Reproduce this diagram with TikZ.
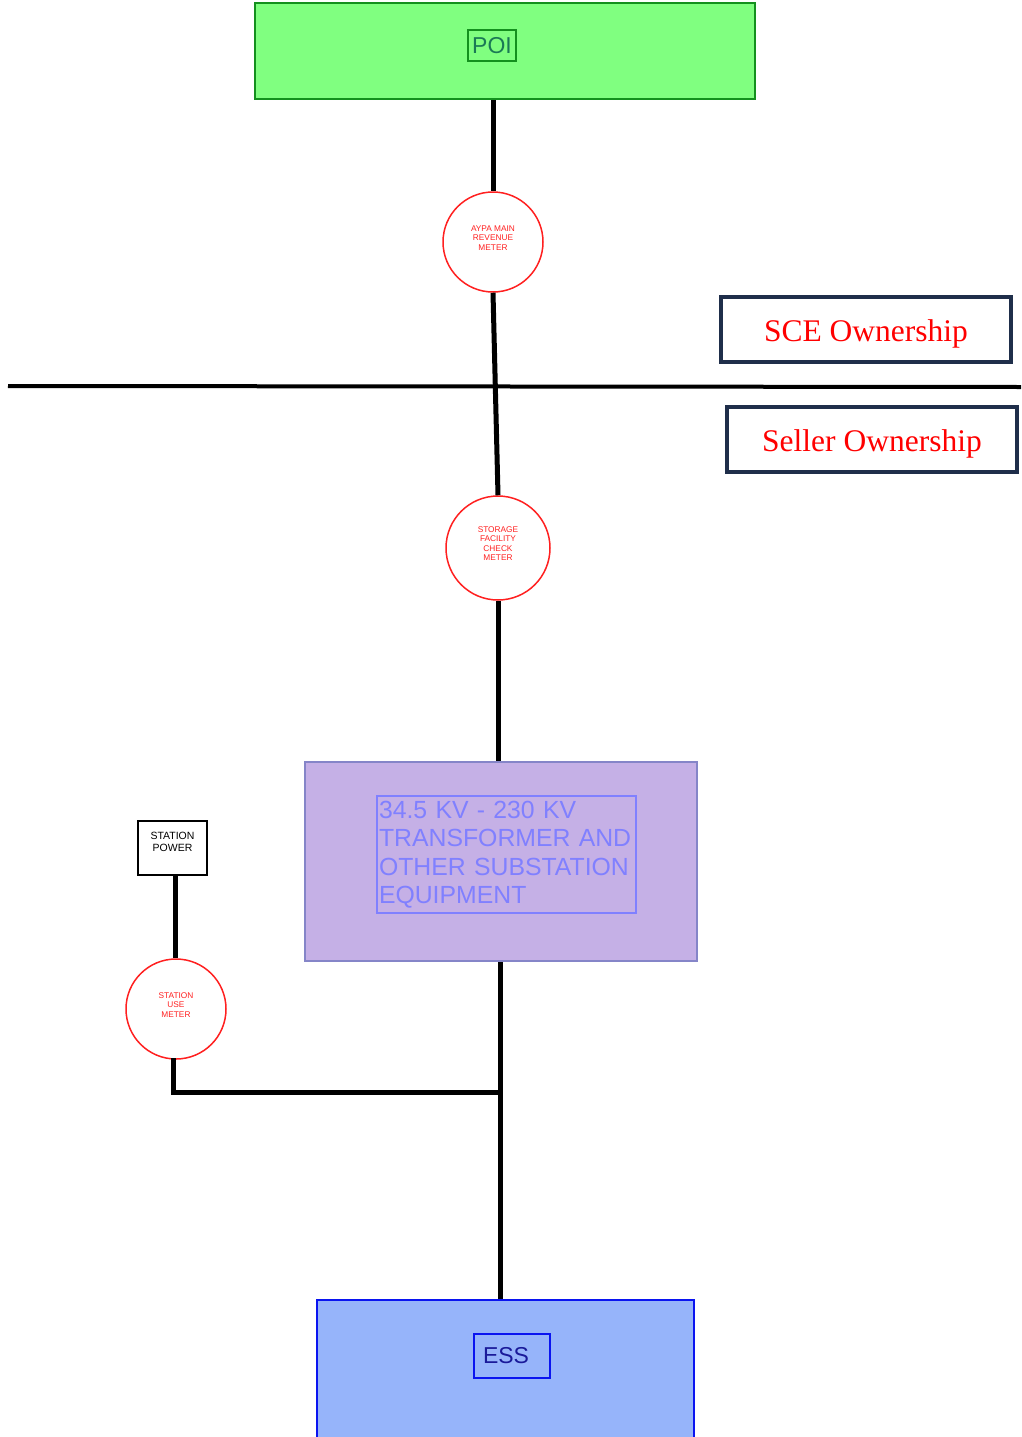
\documentclass[tikz,border=0pt]{standalone}
\usepackage{fontspec}
\setmainfont{Liberation Sans}
\newfontfamily\serifface{Liberation Serif}
\definecolor{poifill}{HTML}{80FF80}
\definecolor{poiline}{HTML}{14901E}
\definecolor{poitext}{HTML}{1A7A55}
\definecolor{trfill}{HTML}{C5B0E6}
\definecolor{trline}{HTML}{8585C8}
\definecolor{trtext}{HTML}{8080FF}
\definecolor{essfill}{HTML}{96B4FA}
\definecolor{essline}{HTML}{0A14F0}
\definecolor{esstext}{HTML}{1A1A9A}
\definecolor{navy}{HTML}{1F2E4A}
\definecolor{meterred}{HTML}{FF2020}
\tikzset{
  wire/.style={line width=5pt, black},
  meter/.style={circle, draw=meterred, line width=1.5pt, fill=white, minimum size=100pt, inner sep=0pt,
    text=meterred, font=\fontsize{8.3}{9.5}\selectfont, align=center},
  ownbox/.style={draw=navy, line width=3.5pt, minimum width=290pt, minimum height=65pt, inner sep=0pt,
    text height=24pt, text depth=0pt,
    text=red, font=\serifface\fontsize{31.5}{36}\selectfont},
}
\begin{document}
\begin{tikzpicture}[x=1pt,y=-1pt]
\useasboundingbox (0,0) rectangle (1021,1437);
% POI
\node (poi) [draw=poiline, fill=poifill, line width=2pt, minimum width=500pt, minimum height=96pt, inner sep=0pt] at (505,51) {};
\node (poil) [draw=poiline, line width=2pt, text=poitext, inner sep=1.5pt, minimum width=48pt, minimum height=31pt, font=\fontsize{23}{26}\selectfont] at (492,45.5) {POI};
% meters
\node (m1) [meter] at (493,242) {AYPA MAIN\\REVENUE\\METER\\[-1pt]};
\node (m2) [meter, minimum size=104pt] at (498,548) {STORAGE\\FACILITY\\CHECK\\METER\\[-1pt]};
\node (m3) [meter] at (176,1009) {STATION\\USE\\METER\\[-1pt]};
% ownership line
\coordinate (hl) at (8,386);
\coordinate (hr) at (1021,387);
\draw[line width=4pt] (hl) -- (hr);
\node (sce) [ownbox] at (866,329.5) {SCE Ownership};
\node (sel) [ownbox] at (872,439.5) {Seller Ownership};
% transformer
\node (tr) [draw=trline, fill=trfill, line width=2pt, minimum width=392pt, minimum height=199pt, inner sep=0pt] at (501,861.5) {};
\node (trl) [draw=trtext, line width=2pt, text=trtext, minimum width=259pt, minimum height=117pt, inner sep=0pt, align=left, text width=255pt,
  font=\fontsize{24.8}{28.5}\selectfont] at (506.5,854.5) {34.5 KV - 230 KV\\TRANSFORMER AND\\OTHER SUBSTATION\\EQUIPMENT};
% station power
\node (sp) [draw, line width=2pt, minimum width=69pt, minimum height=54pt, inner sep=0pt, align=center,
  font=\fontsize{10.5}{12}\selectfont] at (172.5,848) {STATION\\POWER\\[0pt]};
% ESS
\node (ess) [draw=essline, fill=essfill, line width=2pt, minimum width=377pt, minimum height=150pt, inner sep=0pt] at (505.5,1375) {};
\node (essl) [draw=essline, line width=2pt, text=esstext, minimum width=76pt, minimum height=44pt, inner ysep=0pt, inner xsep=9pt,
  text width=58pt, align=left, font=\fontsize{23}{26}\selectfont] at (512,1356) {ESS};
% wires
\draw[wire] (poi.south -| m1.north) -- (m1.north);
\draw[wire] (m1.south) -- (m2.north);
\draw[wire] (m2.south) -- (m2.south |- tr.north);
\coordinate (j) at (500,1092);
\draw[wire] (tr.south -| j) -- (j) -- (ess.north -| j);
\draw[wire] (j) -- (j -| 173,0) -- (173,1058) coordinate (m3b);
\draw[wire] (sp.south -| 175,0) -- (m3.north -| 175,0);
\end{tikzpicture}
\end{document}
